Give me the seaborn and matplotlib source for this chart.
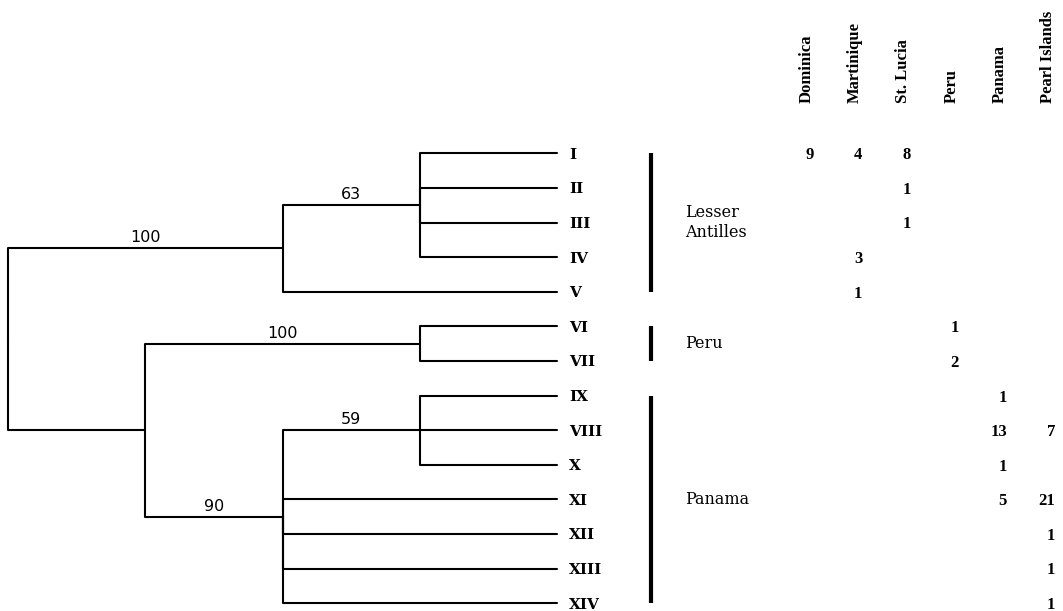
import numpy as np
import pandas as pd
import matplotlib
matplotlib.use("Agg")
import matplotlib.pyplot as plt
from matplotlib.colors import ListedColormap
from matplotlib.transforms import offset_copy
import seaborn as sns

# leaves of the tree, top to bottom, and the clade each hangs from
leaves = ["I", "II", "III", "IV", "V", "VI", "VII", "IX", "VIII", "X", "XI", "XII", "XIII", "XIV"]
leaf_parent = ["c63", "c63", "c63", "c63", "LA", "peru", "peru",
               "c59", "c59", "c59", "c90", "c90", "c90", "c90"]
leaf_depth = 4

# internal nodes
nodes = ["root", "LA", "c63", "PP", "peru", "c90", "c59"]
node_parent = [None, "root", "LA", "root", "PP", "PP", "c90"]
node_depth = [0, 2, 3, 1, 3, 2, 3]
node_support = [None, 100, 63, None, 100, 90, 59]

# haplotype counts per locality (same order as leaves)
islands = ["Dominica", "Martinique", "St. Lucia", "Peru", "Panama", "Pearl Islands"]
dominica   = [9, 0, 0, 0, 0, 0, 0, 0, 0, 0, 0, 0, 0, 0]
martinique = [4, 0, 0, 3, 1, 0, 0, 0, 0, 0, 0, 0, 0, 0]
st_lucia   = [8, 1, 1, 0, 0, 0, 0, 0, 0, 0, 0, 0, 0, 0]
peru       = [0, 0, 0, 0, 0, 1, 2, 0, 0, 0, 0, 0, 0, 0]
panama     = [0, 0, 0, 0, 0, 0, 0, 1, 13, 1, 5, 0, 0, 0]
pearl      = [0, 0, 0, 0, 0, 0, 0, 0, 7, 0, 21, 1, 1, 1]

groups = ["Lesser\nAntilles", "Peru", "Panama"]
group_first = ["I", "VI", "IX"]
group_last = ["V", "VII", "XIV"]

# ---- tree geometry from the data
ypos = {name: i for i, name in enumerate(leaves)}
xpos = {name: leaf_depth for name in leaves}
xpos.update(dict(zip(nodes, node_depth)))
children = {n: [] for n in nodes}
for leaf, p in zip(leaves, leaf_parent):
    children[p].append(leaf)
for n, p in zip(nodes, node_parent):
    if p:
        children[p].append(n)

def place(n):
    if n not in ypos:
        ys = [place(c) for c in children[n]]
        ypos[n] = (min(ys) + max(ys)) / 2
    return ypos[n]

place("root")

edges = list(zip(leaves, leaf_parent)) + [(n, p) for n, p in zip(nodes, node_parent) if p]
rows = []
for k, (c, p) in enumerate(edges):
    rows += [(k, xpos[p], ypos[p]), (k, xpos[p], ypos[c]), (k, xpos[c], ypos[c])]
seg = pd.DataFrame(rows, columns=["seg", "x", "y"])

# ---- layout (pixels of a 1063x611 canvas)
W, H = 1063, 611
row0, step = 153.3, 34.6
y_top = -row0 / step
y_bot = (H - row0) / step

def box(l, r):
    return [l / W, 0, (r - l) / W, 1]

sns.set_style("white")
plt.rcParams.update({"text.color": "black", "xtick.color": "black", "ytick.color": "black"})
fig = plt.figure(figsize=(W / 100, H / 100), dpi=100)

ax_tree = fig.add_axes(box(8, 557))
sns.lineplot(data=seg, x="x", y="y", units="seg", estimator=None, sort=False,
             color="black", lw=1.5, clip_on=False, ax=ax_tree)
ax_tree.set_xlim(0, leaf_depth)
ax_tree.set_ylim(y_bot, y_top)
ax_tree.axis("off")

lab_tr = offset_copy(ax_tree.transData, fig=fig, x=12, y=0, units="dots")
for leaf in leaves:
    ax_tree.text(leaf_depth, ypos[leaf], leaf, transform=lab_tr, ha="left",
                 va="center_baseline", family="DejaVu Serif", fontsize=11,
                 fontweight="bold", clip_on=False)

sup_tr = offset_copy(ax_tree.transData, fig=fig, x=0, y=6, units="dots")
par = dict(zip(nodes, node_parent))
for n, s in zip(nodes, node_support):
    if s is None:
        continue
    xm = (xpos[par[n]] + xpos[n]) / 2
    ax_tree.text(xm, ypos[n], str(s), transform=sup_tr, ha="center", va="baseline",
                 family="DejaVu Sans", fontsize=11.5)

# ---- group bars
ax_grp = fig.add_axes(box(557, 783))
ax_grp.set_xlim(0, 1)
ax_grp.set_ylim(y_bot, y_top)
ax_grp.axis("off")
ax_grp.vlines([0.415] * len(groups), [ypos[g] for g in group_first],
              [ypos[g] for g in group_last], color="black", lw=3)
for name, a, b in zip(groups, group_first, group_last):
    ax_grp.text(0.566, (ypos[a] + ypos[b]) / 2, name, ha="left", va="center",
                family="DejaVu Serif", fontsize=11.5, linespacing=1.3)

# ---- count table
counts = pd.DataFrame(np.array([dominica, martinique, st_lucia, peru, panama, pearl]).T,
                      index=leaves, columns=islands)
top_px = row0 - step / 2
bot_px = row0 + (len(leaves) - 0.5) * step
ax_tab = fig.add_axes([783 / W, 1 - bot_px / H, 289 / W, (bot_px - top_px) / H])
sns.heatmap(counts, mask=counts == 0, cmap=ListedColormap(["white"]), cbar=False,
            annot=True, fmt="d", yticklabels=False, ax=ax_tab,
            annot_kws=dict(color="black", ha="right", va="center_baseline", fontsize=12,
                           fontweight="bold", family="Liberation Serif"))
for t in ax_tab.texts:
    x, y = t.get_position()
    t.set_position((x + 0.15, y))
ax_tab.xaxis.tick_top()
ax_tab.set_xticks(np.arange(len(islands)) + 0.5)
ax_tab.set_xticklabels(islands, rotation=90, fontsize=12, fontweight="bold",
                       family="Liberation Serif", color="black")
ax_tab.tick_params(length=0, pad=24)
ax_tab.set_xlabel("")
ax_tab.set_ylabel("")

fig.savefig("out.png", dpi=100)
